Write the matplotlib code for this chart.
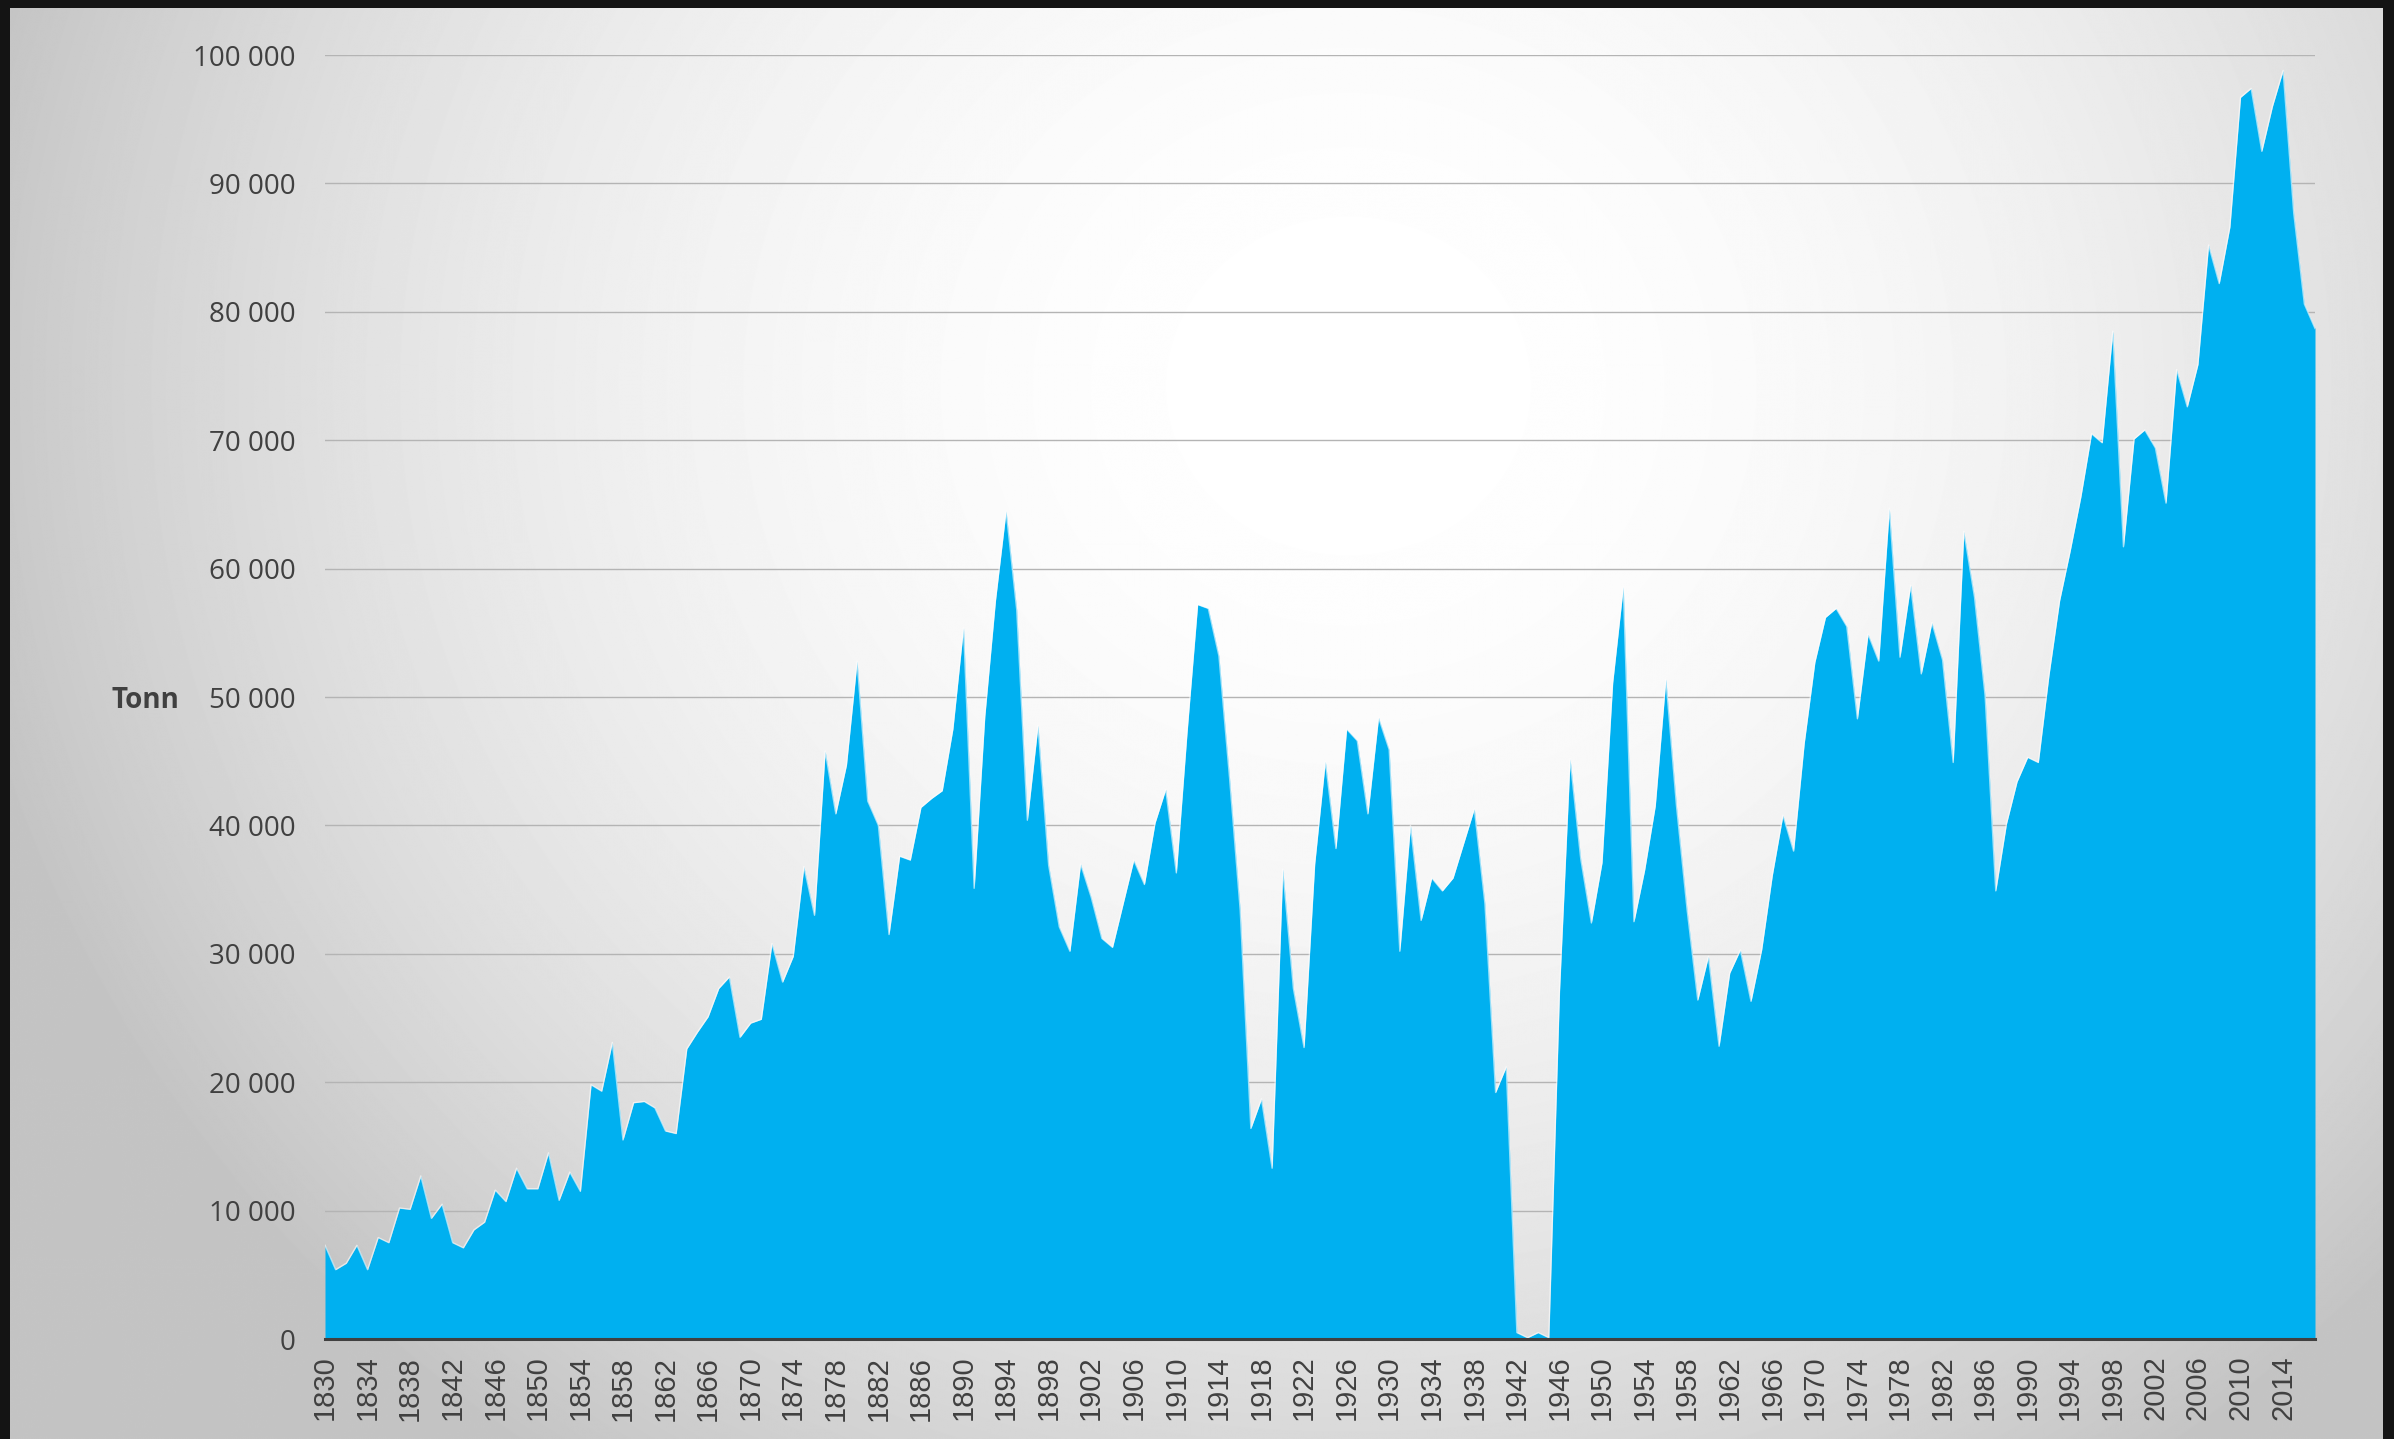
import numpy as np
import matplotlib
matplotlib.use("Agg")
from matplotlib import pyplot as plt
from matplotlib.ticker import FuncFormatter
from matplotlib.patches import Rectangle

years = list(range(1830, 2018))
tonn = [
    7300, 5400, 5900, 7300, 5400, 7900, 7500, 10200, 10100, 12700,    # 1830-1839
    9400, 10500, 7500, 7100, 8500, 9100, 11600, 10700, 13300, 11700,  # 1840-1849
    11700, 14500, 10800, 13000, 11500, 19800, 19300, 23100, 15500, 18400,  # 1850-1859
    18500, 18000, 16200, 16000, 22600, 23900, 25100, 27300, 28200, 23500,  # 1860-1869
    24600, 24900, 30800, 27800, 29800, 36800, 33000, 45800, 40900, 44700,  # 1870-1879
    52800, 41900, 40000, 31500, 37600, 37300, 41400, 42100, 42700, 47500,  # 1880-1889
    55400, 35100, 48500, 57500, 64500, 56800, 40400, 47800, 36900, 32100,  # 1890-1899
    30200, 37000, 34400, 31200, 30500, 33900, 37300, 35400, 40200, 42800,  # 1900-1909
    36300, 47200, 57200, 56900, 53200, 43700, 33400, 16400, 18700, 13300,  # 1910-1919
    36600, 27300, 22700, 37000, 45000, 38200, 47500, 46600, 40900, 48400,  # 1920-1929
    45900, 30200, 40000, 32600, 35900, 34900, 35900, 38600, 41300, 33900,  # 1930-1939
    19200, 21200, 500, 100, 500, 100, 27000, 45200, 37400, 32400,         # 1940-1949
    37100, 51100, 58600, 32500, 36500, 41500, 51400, 41500, 33400, 26400,  # 1950-1959
    29800, 22800, 28500, 30300, 26300, 30300, 36100, 40800, 38000, 46400,  # 1960-1969
    52700, 56200, 56900, 55500, 48300, 54900, 52800, 64700, 53100, 58700,  # 1970-1979
    51800, 55800, 52900, 44900, 62900, 57800, 50100, 34900, 40100, 43400,  # 1980-1989
    45300, 44900, 51700, 57500, 61400, 65600, 70500, 69800, 78500, 61700,  # 1990-1999
    70100, 70800, 69400, 65100, 75500, 72600, 75900, 85200, 82200, 86600,  # 2000-2009
    96700, 97400, 92500, 96000, 98800, 87700, 80600, 78700,               # 2010-2017
]
xtick_years = list(range(1830, 2015, 4))
ytick_vals = list(range(0, 100001, 10000))

W, H = 2394, 1439
fig = plt.figure(figsize=(W / 100, H / 100), dpi=100)
fig.patch.set_facecolor("#141414")

# background panel: grey with a soft white spot
bg = fig.add_axes([0, 0, 1, 1], zorder=-10)
bg.axis("off")
yy, xx = np.mgrid[0:H, 0:W]
d = np.sqrt(((xx - 1350) / 1350.0) ** 2 + ((yy - 380) / 1250.0) ** 2)
shade = 1.0 - 0.21 * np.clip(d, 0, 1.05) ** 2.0
bg.add_patch(Rectangle((0, 0), W, H, color="#141414", zorder=0))
bg.imshow(shade, cmap="gray", vmin=0, vmax=1, extent=(10, W - 11, H, 8),
          zorder=1, interpolation="bilinear")
bg.set_xlim(0, W)
bg.set_ylim(H, 0)

ax = fig.add_axes([325 / W, 1 - 1339 / H, (2315 - 325) / W, (1339 - 55) / H])
ax.patch.set_alpha(0)
ax.fill_between(years, tonn, color="#00B0F0", lw=0, zorder=2)
ax.plot(years, tonn, color="white", lw=1.0, alpha=0.6, zorder=3)

ax.set_xlim(1830, 2017)
ax.set_ylim(0, 100000)
ax.set_yticks(ytick_vals)
ax.yaxis.set_major_formatter(FuncFormatter(lambda v, p: f"{int(v):,}".replace(",", " ")))
ax.set_xticks(xtick_years)
ax.set_xticklabels([str(y) for y in xtick_years], rotation=90,
                   family=["Liberation Sans", "DejaVu Sans"])
for lab in ax.get_yticklabels():
    lab.set_family(["Open Sans", "DejaVu Sans"])

ax.grid(axis="y", color="#b4b4b4", lw=1.0)
ax.set_axisbelow(True)
for s in ["top", "right", "left"]:
    ax.spines[s].set_visible(False)
ax.spines["bottom"].set_color("#404040")
ax.spines["bottom"].set_linewidth(2.2)
ax.spines["bottom"].set_zorder(4)
ax.tick_params(axis="y", length=0, pad=21, labelsize=20, labelcolor="#404040")
ax.tick_params(axis="x", length=0, pad=12, labelsize=21, labelcolor="#404040")

fig.text(111 / W, 1 - 700 / H, "Tonn", fontsize=20, fontweight="bold",
         color="#404040", ha="left", va="center",
         family=["Open Sans", "DejaVu Sans"])

fig.savefig("out.png", dpi=100, facecolor=fig.get_facecolor())
